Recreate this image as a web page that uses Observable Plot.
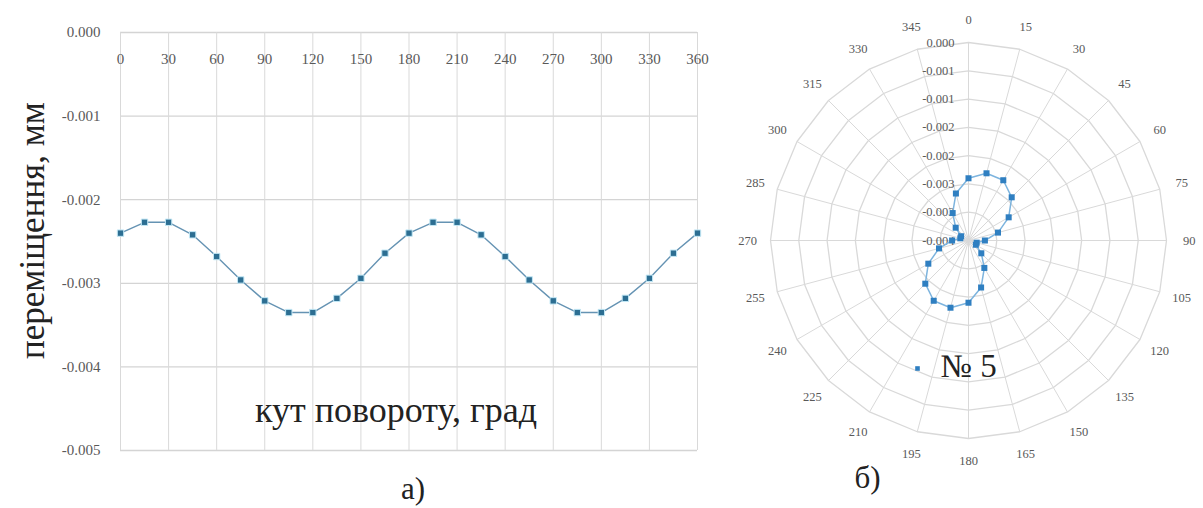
<!DOCTYPE html>
<html><head><meta charset="utf-8">
<script src="https://cdn.jsdelivr.net/npm/d3@7"></script>
<script src="https://cdn.jsdelivr.net/npm/@observablehq/plot@0.6"></script>
<style>
body{margin:0;background:#fff;}
#wrap{position:relative;width:1203px;height:508px;overflow:hidden;background:#fff;}
#left{position:absolute;left:0;top:0;}
#right{position:absolute;left:740px;top:0;}
svg{overflow:visible;}
svg text{font-family:"Liberation Serif","Times New Roman",serif !important;}
</style></head><body><div id="wrap"><div id="left"></div><div id="right"></div></div>
<script>
// ---- data ----
const angles = [0,15,30,45,60,75,90,105,120,135,150,165,180,195,210,225,240,255,270,285,300,315,330,345,360];
const displacement = [-0.00240,-0.00227,-0.00227,-0.00242,-0.00268,-0.00296,-0.00321,-0.00335,-0.00335,-0.00318,-0.00294,-0.00264,
                      -0.00240,-0.00227,-0.00227,-0.00242,-0.00268,-0.00296,-0.00321,-0.00335,-0.00335,-0.00318,-0.00294,-0.00264,-0.00240];
const xTicks = [0,30,60,90,120,150,180,210,240,270,300,330,360];
const yTicks = [0,-0.001,-0.002,-0.003,-0.004,-0.005];
const yTickLabels = ["0.000","-0.001","-0.002","-0.003","-0.004","-0.005"];
const polarAngles = [0,15,30,45,60,75,90,105,120,135,150,165,180,195,210,225,240,255,270,285,300,315,330,345];
const radialTicks = [0,-0.0005,-0.001,-0.0015,-0.002,-0.0025,-0.003,-0.0035];
const radialTickLabels = ["0.000","-0.001","-0.001","-0.002","-0.002","-0.003","-0.003","-0.004"];
const seriesName = "№ 5";
const xTitle = "кут повороту, град";
const yTitle = "переміщення, мм";
const panelA = "а)";
const panelB = "б)";

const serif = "Liberation Serif";
const gridColor = "#d9d9d9";
const tickColor = "#595959";

function stretch(svg, label, factor) {
  d3.select(svg).selectAll(`g[aria-label="${label}"] text`).each(function () {
    const w = this.getComputedTextLength();
    this.setAttribute("textLength", w * factor);
    this.setAttribute("lengthAdjust", "spacingAndGlyphs");
  });
}

// ---- left: line chart ----
const data = angles.map((a, i) => ({a, v: displacement[i]}));
const left = Plot.plot({
  width: 720, height: 508,
  marginLeft: 120, marginRight: 23, marginTop: 32, marginBottom: 58,
  style: {background: "transparent", overflow: "visible"},
  x: {domain: [0, 360], axis: null},
  y: {domain: [-0.005, 0], axis: null},
  marks: [
    Plot.ruleY(yTicks, {stroke: "#d4d4d4", strokeWidth: 1.3}),
    Plot.ruleX(xTicks, {stroke: gridColor, strokeWidth: 1}),
    Plot.text(yTicks, {x: 0, y: d => d, text: (d, i) => yTickLabels[i], ariaLabel: "ytick", textAnchor: "end", dx: -20, fontSize: 15, fontFamily: serif, fill: tickColor}),
    Plot.text(xTicks, {x: d => d, y: 0, dy: 27, text: d => String(d), ariaLabel: "xtick", fontSize: 15, fontFamily: serif, fill: tickColor}),
    Plot.line(data, {x: "a", y: "v", stroke: "#6593b3", strokeWidth: 1.4}),
    Plot.dot(data, {x: "a", y: "v", symbol: "square", r: 3.6, fill: "#2c6e92", stroke: "#c3e8f6", strokeWidth: 1}),
    Plot.text([yTitle], {frameAnchor: "left", textAnchor: "middle", lineAnchor: "middle", rotate: -90, dx: -88, dy: -11, fontSize: 35, fontFamily: serif, fill: "#222"}),
    Plot.text([xTitle], {frameAnchor: "bottom", textAnchor: "middle", lineAnchor: "middle", dx: -13, dy: -40, fontSize: 36, fontFamily: serif, fill: "#222"}),
    Plot.text([panelA], {frameAnchor: "bottom", textAnchor: "middle", lineAnchor: "middle", dx: 4, dy: 39, fontSize: 31, fontFamily: serif, fill: "#222"})
  ]
});
document.getElementById("left").appendChild(left);
stretch(left, "ytick", 1.25);
stretch(left, "xtick", 1.15);

// ---- right: radar chart ----
const W = 463, H = 508, cx = 228, cy = 240, R = 198;
const rMin = Math.min(...radialTicks), rMax = Math.max(...radialTicks);
const rNorm = v => (v - rMin) / (rMax - rMin);
const rad = a => a * Math.PI / 180;
const closed = polarAngles.concat([360]);
const rings = radialTicks.filter(t => t !== rMin).flatMap(t => closed.map(a => ({t, a, r: rNorm(t)})));
const polarData = polarAngles.map((a, i) => ({a, v: displacement[i]}));

const right = Plot.plot({
  width: W, height: H,
  marginLeft: 0, marginRight: 0, marginTop: 0, marginBottom: 0,
  style: {background: "transparent", overflow: "visible"},
  x: {domain: [-cx / R, (W - cx) / R], axis: null},
  y: {domain: [-(H - cy) / R, cy / R], axis: null},
  marks: [
    Plot.link(polarAngles, {x1: 0, y1: 0, x2: a => Math.sin(rad(a)), y2: a => Math.cos(rad(a)), stroke: gridColor, strokeWidth: 1}),
    Plot.line(rings, {x: d => d.r * Math.sin(rad(d.a)), y: d => d.r * Math.cos(rad(d.a)), z: "t", stroke: gridColor, strokeWidth: 1.3}),
    Plot.text(polarAngles, {x: a => 1.115 * Math.sin(rad(a)), y: a => 1.115 * Math.cos(rad(a)), text: a => String(a), ariaLabel: "atick", fontSize: 12.5, fontFamily: serif, fill: tickColor}),
    Plot.text(radialTicks, {x: 0, y: t => rNorm(t), text: (d, i) => radialTickLabels[i], ariaLabel: "rtick", textAnchor: "end", dx: -14, fontSize: 12.5, fontFamily: serif, fill: tickColor}),
    Plot.line(polarData, {x: d => rNorm(d.v) * Math.sin(rad(d.a)), y: d => rNorm(d.v) * Math.cos(rad(d.a)), curve: "linear-closed", stroke: "#7db4de", strokeWidth: 1.5}),
    Plot.dot(polarData, {x: d => rNorm(d.v) * Math.sin(rad(d.a)), y: d => rNorm(d.v) * Math.cos(rad(d.a)), symbol: "square", r: 3.4, fill: "#2f7fc1"}),
    Plot.dot([seriesName], {frameAnchor: "top-left", dx: 177, dy: 368, symbol: "square", r: 2.6, fill: "#2f7fc1"}),
    Plot.text([seriesName], {frameAnchor: "top-left", dx: 200, dy: 366, textAnchor: "start", lineAnchor: "middle", fontSize: 33, fontFamily: serif, fill: "#222"}),
    Plot.text([panelB], {frameAnchor: "top-left", dx: 127, dy: 478, textAnchor: "middle", lineAnchor: "middle", fontSize: 31, fontFamily: serif, fill: "#222"})
  ]
});
document.getElementById("right").appendChild(right);
stretch(right, "atick", 1.25);
stretch(right, "rtick", 1.25);
</script>
</body></html>
